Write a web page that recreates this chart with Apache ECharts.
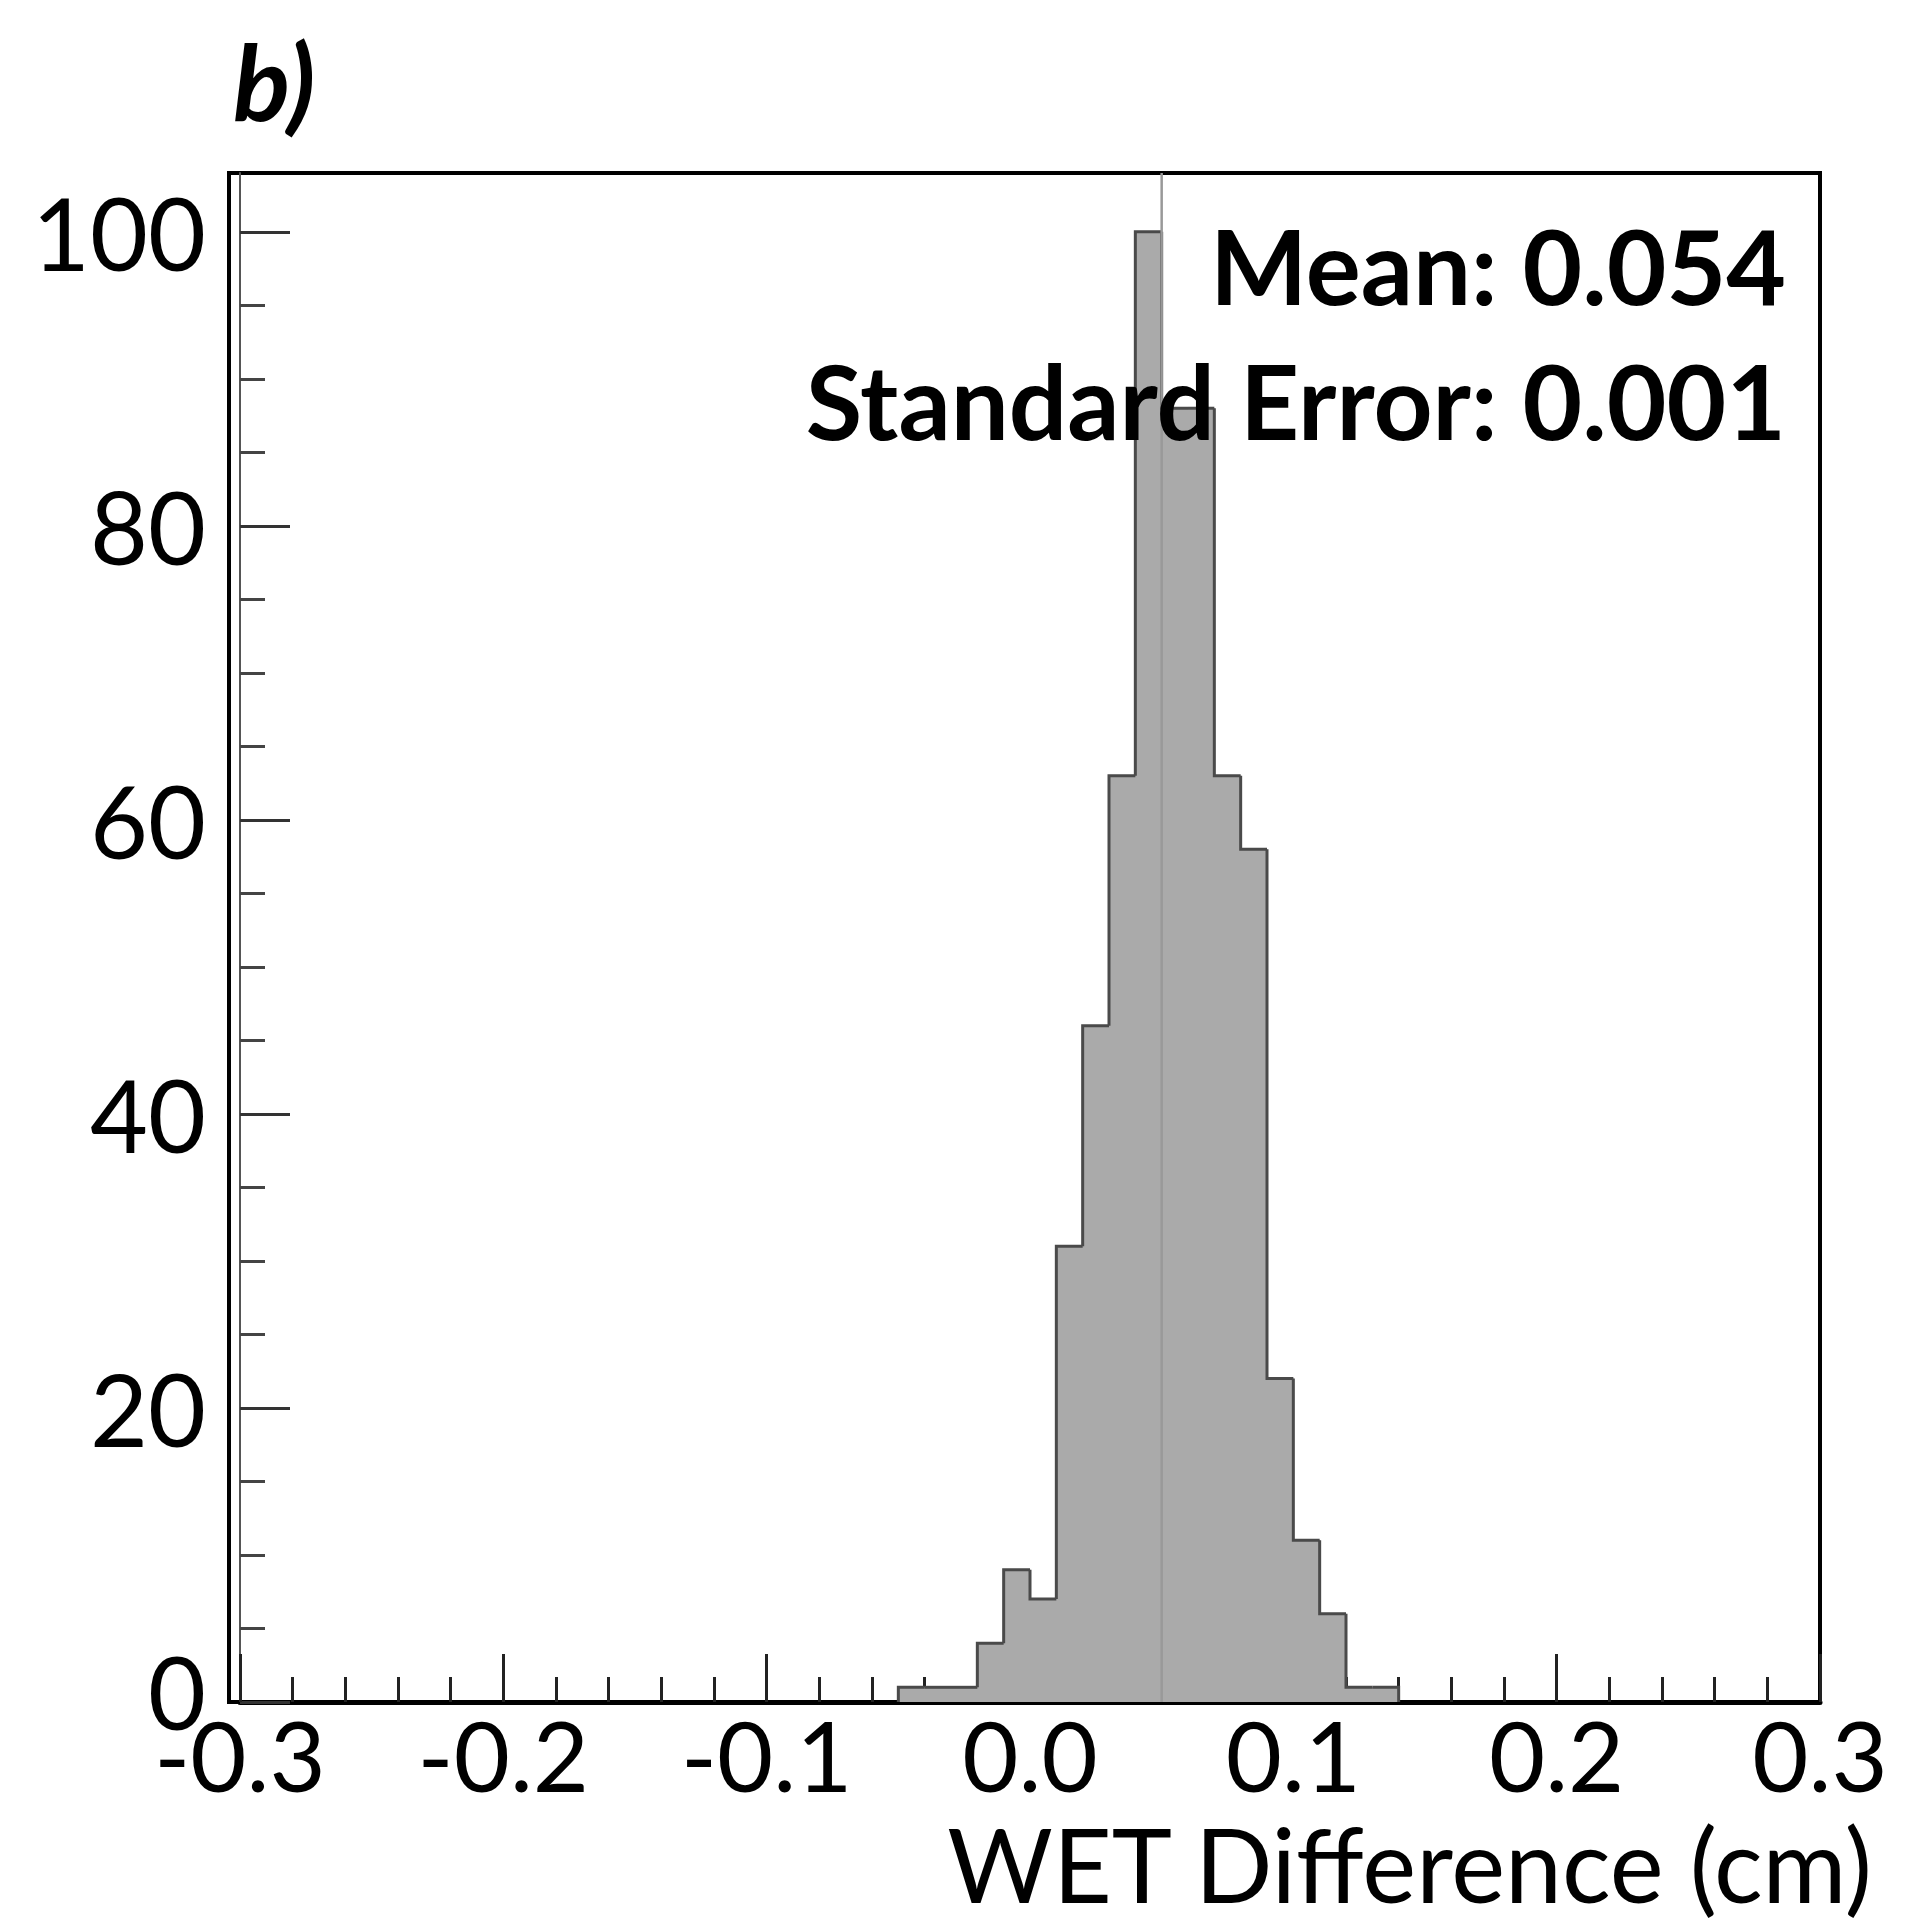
<!DOCTYPE html>
<html>
<head>
<meta charset="utf-8">
<script src="https://cdn.jsdelivr.net/npm/echarts@6/dist/echarts.min.js"></script>
<style>
html,body{margin:0;padding:0;background:#fff;}
#chart{width:1920px;height:1929px;}
</style>
</head>
<body>
<div id="chart"></div>
<script>
// ---- data ----
const binLeft  = [-0.05,-0.04,-0.03,-0.02,-0.01,0.00,0.01,0.02,0.03,0.04,0.05,0.06,0.07,0.08,0.09,0.10,0.11,0.12,0.13];
const binRight = [-0.04,-0.03,-0.02,-0.01,0.00,0.01,0.02,0.03,0.04,0.05,0.06,0.07,0.08,0.09,0.10,0.11,0.12,0.13,0.14];
const counts   = [1,1,1,4,9,7,31,46,63,100,88,88,63,58,22,11,6,1,1];
const meanLineX = 0.05;
const yTickValues = [0,20,40,60,80,100];
const yMinorTickValues = [5,10,15,25,30,35,45,50,55,65,70,75,85,90,95];
const panelLabel = 'b)';
const statLines = ['Mean: 0.054','Standard Error: 0.001'];
const xAxisTitle = 'WET Difference (cm)';

const X_MIN = -0.3, X_MAX = 0.3, Y_MIN = 0, Y_MAX = 104;
const FONT = 'Lato';

const histData = counts.map((c,i)=>[binLeft[i], binRight[i], c, i===0?0:counts[i-1], i===counts.length-1?1:0]);

const chart = echarts.init(document.getElementById('chart'), null, {renderer:'svg', width:1920, height:1929});

const option = {
  backgroundColor:'#ffffff',
  animation:false,
  title:[
    {text:panelLabel, left:228, top:20, textStyle:{fontFamily:FONT, fontSize:106, fontWeight:'bold', fontStyle:'italic', color:'#000', lineHeight:110}},
    {text:statLines[0], right:129, top:208, textStyle:{fontFamily:FONT, fontSize:103, fontWeight:'bold', color:'#000', lineHeight:104}},
    {text:statLines[1], right:129, top:343, textStyle:{fontFamily:FONT, fontSize:103, fontWeight:'bold', color:'#000', lineHeight:104}},
    {text:xAxisTitle, right:40, top:1816, textStyle:{fontFamily:FONT, fontSize:102, fontWeight:'normal', color:'#000', lineHeight:84}}
  ],
  grid:[
    {left:240, right:100, top:173, bottom:227, show:false},
    {left:229, right:100, top:173, bottom:227, show:true, borderColor:'#000', borderWidth:4, backgroundColor:'transparent'}
  ],
  xAxis:[
    {type:'value', gridIndex:0, min:X_MIN, max:X_MAX, interval:0.1,
     axisLine:{show:true, onZero:false, lineStyle:{color:'#000', width:5}},
     axisTick:{show:true, inside:true, length:48, lineStyle:{color:'#222', width:3}},
     minorTick:{show:true, splitNumber:5, length:25, lineStyle:{color:'#222', width:3}},
     splitLine:{show:false},
     axisLabel:{margin:26, lineHeight:52, fontFamily:FONT, fontSize:97, color:'#000',
       formatter:function(v){ return Math.abs(v)<1e-9 ? '0.0' : v.toFixed(1); }}
    },
    {type:'value', gridIndex:1, min:0, max:1, show:false}
  ],
  yAxis:[
    {type:'value', gridIndex:0, min:Y_MIN, max:Y_MAX,
     axisLine:{show:true, onZero:false, lineStyle:{color:'#555', width:2}},
     axisTick:{show:true, inside:true, length:50, customValues:yTickValues, lineStyle:{color:'#333', width:3}},
     splitLine:{show:false},
     axisLabel:{margin:34, lineHeight:50, fontFamily:FONT, fontSize:100, color:'#000', customValues:yTickValues,
       formatter:function(v){ return v===0 ? '{z|0}' : String(v); },
       rich:{z:{fontFamily:FONT, fontSize:100, color:'#000', lineHeight:50, padding:[0,0,22,0]}}}
    },
    {type:'value', gridIndex:0, min:Y_MIN, max:Y_MAX, position:'left', offset:0,
     axisLine:{show:false, onZero:false},
     axisTick:{show:true, inside:true, length:25, customValues:yMinorTickValues, lineStyle:{color:'#444', width:3}},
     axisLabel:{show:false},
     splitLine:{show:false}
    },
    {type:'value', gridIndex:1, min:0, max:1, show:false}
  ],
  series:[
    {
      type:'custom', xAxisIndex:0, yAxisIndex:0,
      data:histData,
      encode:{x:[0,1], y:2},
      clip:false,
      renderItem:function(params, api){
        const x0 = api.value(0), x1 = api.value(1), v = api.value(2), prev = api.value(3), last = api.value(4);
        const pTop = api.coord([x0, v]);
        const pBot = api.coord([x1, 0]);
        const pPrev = api.coord([x0, prev]);
        const pts = [[pTop[0], pPrev[1]], [pTop[0], pTop[1]], [pBot[0], pTop[1]]];
        if (last) pts.push([pBot[0], pBot[1]]);
        return {type:'group', children:[
          {type:'rect', shape:{x:pTop[0]-0.5, y:pTop[1], width:pBot[0]-pTop[0]+1, height:pBot[1]-pTop[1]},
           style:{fill:'#aaaaaa'}, z2:1},
          {type:'polyline', shape:{points:pts}, style:{stroke:'#4a4a4a', lineWidth:3, fill:null}, z2:5}
        ]};
      },
      z:2
    },
    {
      type:'line', xAxisIndex:0, yAxisIndex:0,
      data:[[meanLineX, Y_MIN],[meanLineX, Y_MAX]],
      symbol:'none', lineStyle:{color:'#999999', width:2.5}, z:3
    }
  ]
};
chart.setOption(option);
</script>
</body>
</html>
